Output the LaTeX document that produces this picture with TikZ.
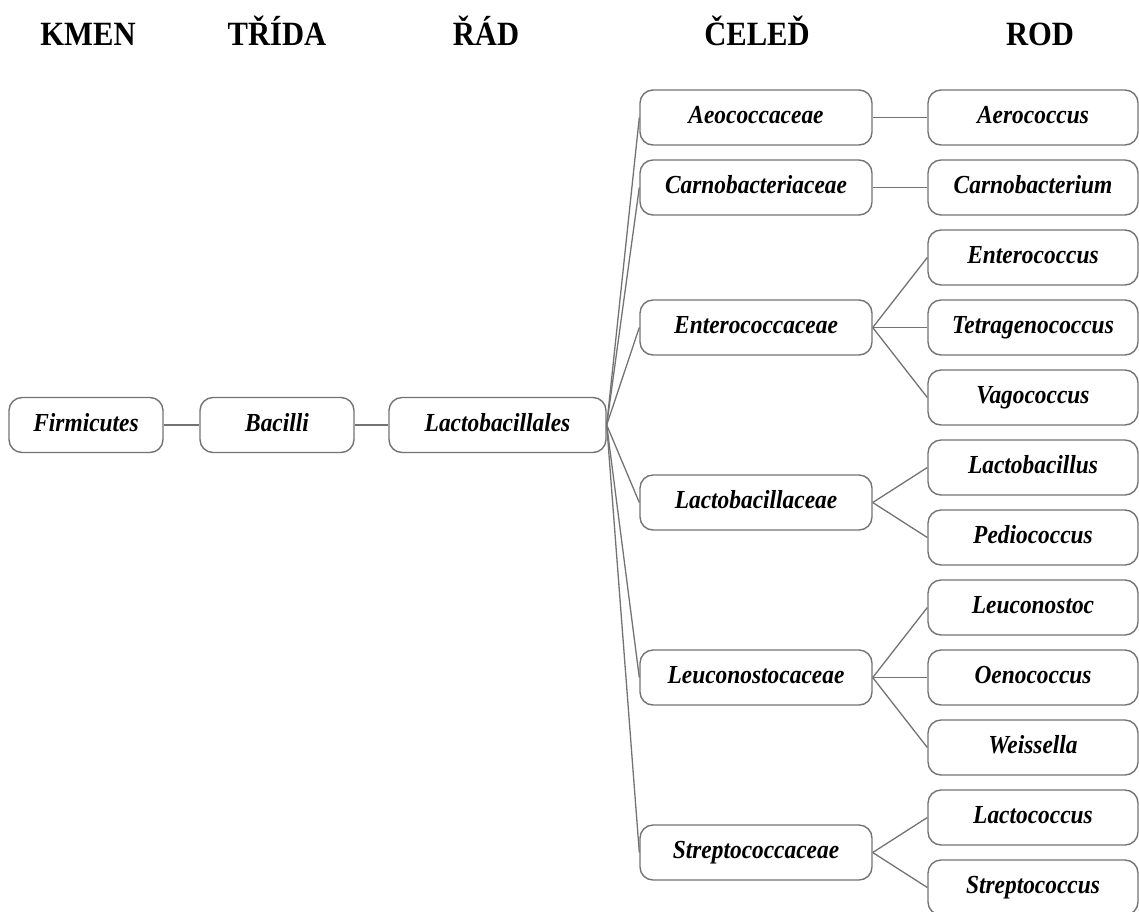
\documentclass[tikz,border=0pt]{standalone}
\usepackage{fontspec}
\setmainfont{Liberation Serif}[FakeStretch=0.9]

\begin{document}
\begin{tikzpicture}[x=1pt, y=-1pt,
    taxon/.style={draw=black!55, line width=1.4pt, rounded corners=13pt,
        minimum height=55pt, inner sep=0pt, text height=17pt, text depth=5pt,
        font=\fontsize{26}{30}\selectfont\bfseries\itshape},
    link/.style={draw=black!55, line width=1.3pt}]
    \useasboundingbox (0,0) rectangle (1139,911);
    \clip (0,0) rectangle (1139,911);

    % --- Column headings ---
    \begin{scope}[font=\fontsize{34}{38}\selectfont\bfseries]
        \node[anchor=base] (hkmen) at (88,45) {KMEN};
        \node[anchor=base] (htrida) at (277,45) {TŘÍDA};
        \node[anchor=base] (hrad) at (486,45) {ŘÁD};
        \node[anchor=base] (hceled) at (757,45) {ČELEĎ};
        \node[anchor=base] (hrod) at (1040,45) {ROD};
    \end{scope}

    % --- Kmen, trida, rad ---
    \node[taxon, minimum width=154pt] (firmicutes) at (86,425) {Firmicutes};
    \node[taxon, minimum width=154pt] (bacilli) at (277,425) {Bacilli};
    \node[taxon, minimum width=217pt] (lactobacillales) at (497.5,425) {Lactobacillales};

    % --- Celed (one column) ---
    \node[taxon, minimum width=232pt] (aeococcaceae) at (756,117.5) {Aeococcaceae};
    \node[taxon, minimum width=232pt] (carnobacteriaceae) at (756,187.5) {Carnobacteriaceae};
    \node[taxon, minimum width=232pt] (enterococcaceae) at (756,327.5) {Enterococcaceae};
    \node[taxon, minimum width=232pt] (lactobacillaceae) at (756,502.5) {Lactobacillaceae};
    \node[taxon, minimum width=232pt] (leuconostocaceae) at (756,677.5) {Leuconostocaceae};
    \node[taxon, minimum width=232pt] (streptococcaceae) at (756,852.5) {Streptococcaceae};

    % --- Rod (rows 70pt apart) ---
    \node[taxon, minimum width=210pt] (aerococcus) at (1033,117.5) {Aerococcus};
    \node[taxon, minimum width=210pt] (carnobacterium) at (1033,187.5) {Carnobacterium};
    \node[taxon, minimum width=210pt] (enterococcus) at (1033,257.5) {Enterococcus};
    \node[taxon, minimum width=210pt] (tetragenococcus) at (1033,327.5) {Tetragenococcus};
    \node[taxon, minimum width=210pt] (vagococcus) at (1033,397.5) {Vagococcus};
    \node[taxon, minimum width=210pt] (lactobacillus) at (1033,467.5) {Lactobacillus};
    \node[taxon, minimum width=210pt] (pediococcus) at (1033,537.5) {Pediococcus};
    \node[taxon, minimum width=210pt] (leuconostoc) at (1033,607.5) {Leuconostoc};
    \node[taxon, minimum width=210pt] (oenococcus) at (1033,677.5) {Oenococcus};
    \node[taxon, minimum width=210pt] (weissella) at (1033,747.5) {Weissella};
    \node[taxon, minimum width=210pt] (lactococcus) at (1033,817.5) {Lactococcus};
    \node[taxon, minimum width=210pt] (streptococcus) at (1033,887.5) {Streptococcus};

    % --- Connectors ---
    \draw[link] (firmicutes) -- (bacilli);
    \draw[link] (bacilli) -- (lactobacillales);

    \draw[link] (lactobacillales.east) -- (aeococcaceae.west);
    \draw[link] (lactobacillales.east) -- (carnobacteriaceae.west);
    \draw[link] (lactobacillales.east) -- (enterococcaceae.west);
    \draw[link] (lactobacillales.east) -- (lactobacillaceae.west);
    \draw[link] (lactobacillales.east) -- (leuconostocaceae.west);
    \draw[link] (lactobacillales.east) -- (streptococcaceae.west);

    \draw[link] (aeococcaceae.east) -- (aerococcus.west);
    \draw[link] (carnobacteriaceae.east) -- (carnobacterium.west);
    \draw[link] (enterococcaceae.east) -- (enterococcus.west);
    \draw[link] (enterococcaceae.east) -- (tetragenococcus.west);
    \draw[link] (enterococcaceae.east) -- (vagococcus.west);
    \draw[link] (lactobacillaceae.east) -- (lactobacillus.west);
    \draw[link] (lactobacillaceae.east) -- (pediococcus.west);
    \draw[link] (leuconostocaceae.east) -- (leuconostoc.west);
    \draw[link] (leuconostocaceae.east) -- (oenococcus.west);
    \draw[link] (leuconostocaceae.east) -- (weissella.west);
    \draw[link] (streptococcaceae.east) -- (lactococcus.west);
    \draw[link] (streptococcaceae.east) -- (streptococcus.west);

\end{tikzpicture}
\end{document}
